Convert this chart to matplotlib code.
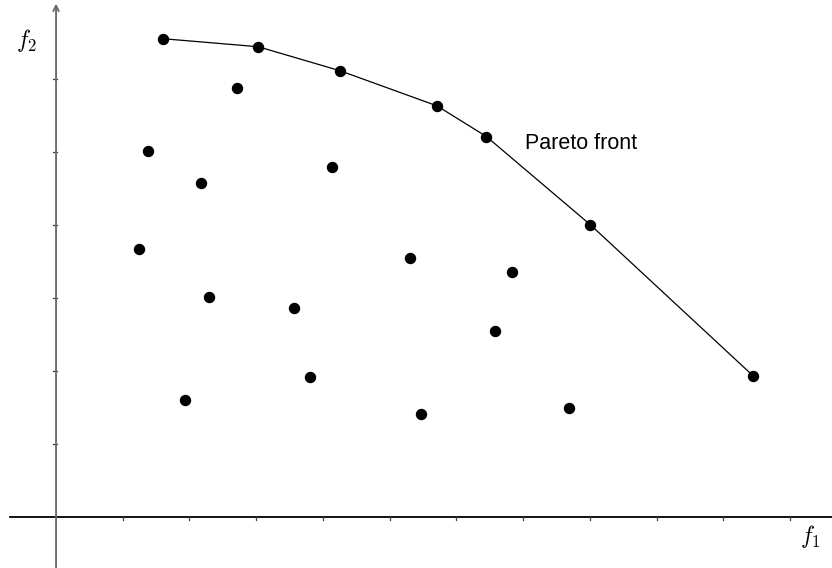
import matplotlib
matplotlib.use('Agg')
import matplotlib.pyplot as plt

plt.rcParams['mathtext.fontset'] = 'cm'

# Pareto-optimal solutions (connected by the front line)
front_f1 = [1.60, 3.03, 4.26, 5.71, 6.45, 8.01, 10.45]
front_f2 = [6.55, 6.44, 6.11, 5.63, 5.21, 4.00, 1.93]

# dominated solutions
other_f1 = [2.71, 1.38, 2.17, 4.14, 1.24, 5.31, 6.84, 2.29, 3.57, 6.58, 3.81, 1.93, 5.47, 7.69]
other_f2 = [5.88, 5.01, 4.58, 4.79, 3.67, 3.55, 3.36, 3.01, 2.86, 2.55, 1.92, 1.60, 1.41, 1.49]

x_ticks = list(range(1, 12))
y_ticks = list(range(1, 7))

fig = plt.figure(figsize=(8.32, 5.68), dpi=100)
ax = fig.add_axes([0, 0, 1, 1])
ax.set_xlim(-0.84, 11.63)
ax.set_ylim(-0.70, 7.08)
ax.axis('off')

# axes drawn by hand
ax.plot([-0.69, 11.63], [0, 0], color='black', lw=1.3)
ax.annotate('', xy=(0, 7.03), xytext=(0, -0.70),
            arrowprops=dict(arrowstyle='->', color='#666666', lw=1.3, shrinkA=0, shrinkB=0))
for t in x_ticks:
    ax.plot([t, t], [0, -0.04], color='#444444', lw=0.9)
for t in y_ticks:
    ax.plot([-0.04, 0.02], [t, t], color='#444444', lw=0.9)

ax.plot(front_f1, front_f2, color='black', lw=0.9, marker='o', ms=7.2)
ax.plot(other_f1, other_f2, ls='none', color='black', marker='o', ms=7.2)

ax.text(7.03, 5.12, 'Pareto front', fontsize=15.5, family='Liberation Sans', va='center')
ax.text(-0.45, 6.52, r'$f_2$', fontsize=17, ha='center', va='center')
ax.text(11.3, -0.27, r'$f_1$', fontsize=17, ha='center', va='center')

fig.savefig('out.png', dpi=100)
